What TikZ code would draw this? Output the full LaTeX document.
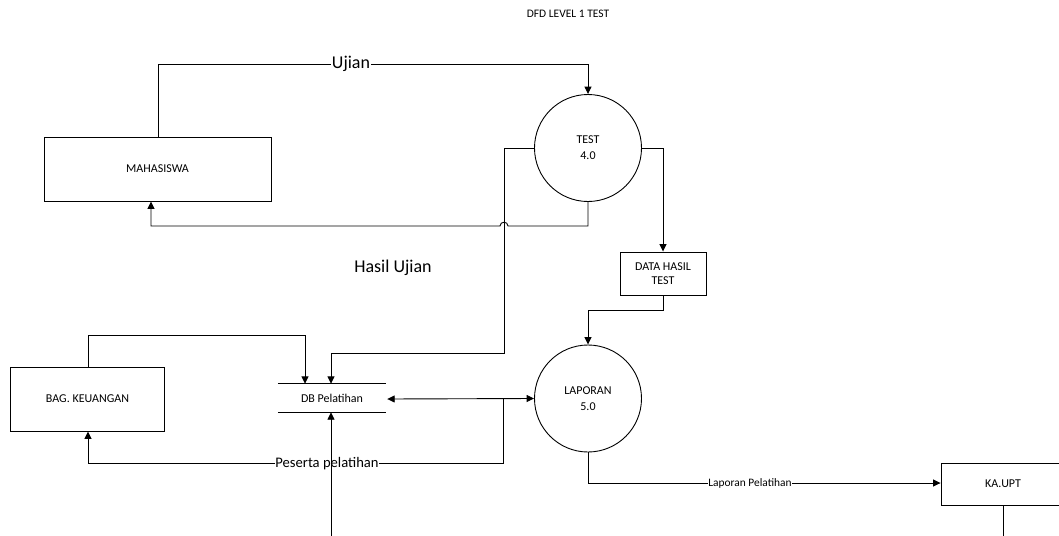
\documentclass[tikz,border=0pt]{standalone}
\usepackage{fontspec}
\setmainfont{Carlito}
\usetikzlibrary{arrows.meta,calc}
\begin{document}
\begin{tikzpicture}[x=1pt,y=-1pt,
  every node/.style={font=\fontsize{12}{14}\selectfont},
  entity/.style={draw,line width=0.9pt,rectangle,inner sep=0pt,align=center},
  proc/.style={draw,line width=0.9pt,circle,minimum size=107pt,inner sep=0pt,align=center,font=\fontsize{12}{16}\selectfont},
  store/.style={rectangle,inner sep=0pt,minimum width=108pt,minimum height=28pt},
  flow/.style={line width=0.9pt},
  arr/.style={flow,-{Triangle[length=7.5pt,width=7pt]}},
  darr/.style={flow,{Triangle[length=7.5pt,width=7pt]}-{Triangle[length=7.5pt,width=7pt]}},
  flowlabel/.style={fill=white,inner sep=0.6pt}]

\useasboundingbox (0,0) rectangle (1059,535);
\clip (0,0) rectangle (1059,535);

% title
\node (title) at (568,14) {\fontsize{11.5}{13}\selectfont DFD LEVEL 1 TEST};

% external entities
\node[entity,minimum width=227pt,minimum height=64pt] (mhs) at (157.5,169) {MAHASISWA};
\node[entity,minimum width=154pt,minimum height=64pt] (bag) at (87.5,399) {BAG. KEUANGAN};
\node[entity,minimum width=124pt,minimum height=42pt] (ka) at (1003,484) {KA.UPT};

% processes
\node[proc] (test) at (588,148) {TEST\\4.0};
\node[proc] (lap) at (588,398.5) {LAPORAN\\5.0};

% data hasil test
\node[entity,minimum width=86pt,minimum height=43pt,font=\fontsize{12}{14}\selectfont] (data) at (663,273.5) {DATA HASIL\\TEST};

% data store
\node[store] (db) at (332,398) {DB Pelatihan};
\draw[flow] (db.north west) -- (db.north east);
\draw[flow] (db.south west) -- (db.south east);

% bend points
\coordinate (ujL) at (158,64);
\coordinate (ujR) at (588,64);
\coordinate (hasR) at (588,226);
\coordinate (hasL) at (151,226);
\coordinate (tw1) at (504,148);
\coordinate (tw2) at (504,353);
\coordinate (tw3) at (331,353);
\coordinate (te1) at (663,148);
\coordinate (dh1) at (663,310);
\coordinate (dh2) at (588,310);
\coordinate (bk1) at (88,335);
\coordinate (bk2) at (305,335);
\coordinate (ps1) at (503,399);
\coordinate (ps2) at (503,463);
\coordinate (ps3) at (88,463);
\coordinate (dbin) at (331,540);
\coordinate (lp1) at (588,483);
\coordinate (kaout) at (1003,540);

% Ujian
\draw[arr] (mhs.north -| ujL) -- (ujL) -- (ujR) -- (test.north);
\node[flowlabel,font=\fontsize{18}{20}\selectfont] (ujian) at (351,64) {Ujian};

% hasil ujian back to mahasiswa, hopping over the store line
\draw[arr] (test.south) -- (hasR) -- (508,226)
  .. controls (508,221) and (500,221) .. (500,226)
  -- (hasL) -- (mhs.south -| hasL);
\node[font=\fontsize{18}{20}\selectfont] (hasil) at (393,268) {Hasil Ujian};

% test to store
\draw[arr] (test.west) -- (tw1) -- (tw2) -- (tw3) -- (db.north -| tw3);

% test to data hasil test
\draw[arr] (test.east) -- (te1) -- (data.north);

% data hasil test to laporan
\draw[arr] (data.south) -- (dh1) -- (dh2) -- (lap.north);

% bag. keuangan to store
\draw[arr] (bag.north -| bk1) -- (bk1) -- (bk2) -- (db.north -| bk2);

% store <-> laporan
\draw[darr] ([xshift=1pt]db.east |- ps1) -- (lap.west);

% peserta pelatihan
\draw[arr] (ps1) -- (ps2) -- (ps3) -- (bag.south -| ps3);
\node[flowlabel,font=\fontsize{14.6}{16}\selectfont] (peserta) at (327,464) {Peserta pelatihan};

% incoming line to the store
\draw[arr] (dbin) -- (db.south -| dbin);

% laporan pelatihan
\draw[arr] (lap.south) -- (lp1) -- (ka.west |- lp1);
\node[flowlabel,font=\fontsize{11.4}{13}\selectfont] (lappel) at (750,483) {Laporan Pelatihan};

% outgoing line from ka.upt
\draw[flow] (ka.south) -- (kaout);

\end{tikzpicture}
\end{document}
